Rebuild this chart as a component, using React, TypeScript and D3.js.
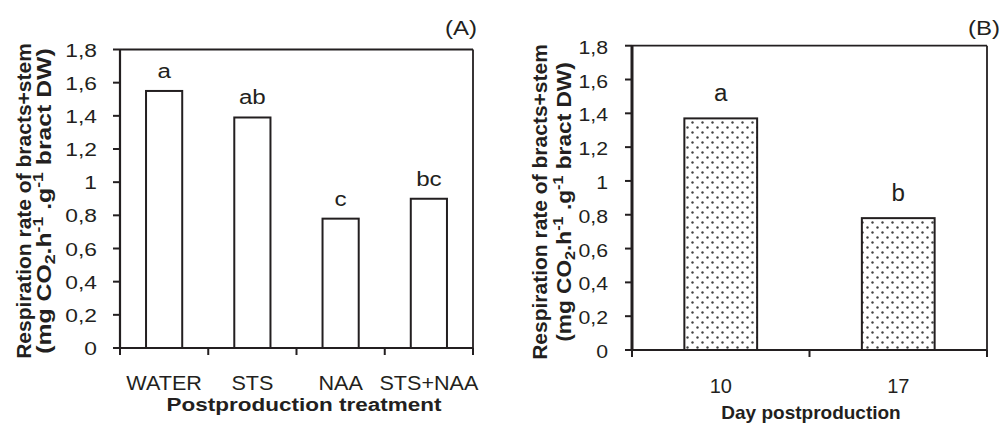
import React from "react";
import * as d3 from "d3";

const categoriesA = ["WATER", "STS", "NAA", "STS+NAA"];
const valuesA = [1.55, 1.39, 0.78, 0.9];
const lettersA = ["a", "ab", "c", "bc"];

const categoriesB = ["10", "17"];
const valuesB = [1.37, 0.78];
const lettersB = ["a", "b"];

const yTickValues = [0, 0.2, 0.4, 0.6, 0.8, 1, 1.2, 1.4, 1.6, 1.8];
const yTickLabels = ["0", "0,2", "0,4", "0,6", "0,8", "1", "1,2", "1,4", "1,6", "1,8"];

const INK = "#231f20";
const FONT = "'Liberation Sans', Arial, Helvetica, sans-serif";

type PanelProps = {
  cats: string[];
  vals: number[];
  letters: string[];
  left: number;
  right: number;
  top: number;
  bottom: number;
  fill: string;
  tickLabelEnd: number;
  tickLabelDy: number;
  tickSize: number;
  tickSx: number;
  catSize: number;
  catSx: number;
  catY: number;
  letterSize: number;
  letterSx: number;
  letterOffset: number;
  xTitle: string;
  xTitleX: number;
  xTitleY: number;
  xTitleSize: number;
  xTitleSx: number;
  panelLabel: string;
  panelLabelX: number;
  panelLabelY: number;
  yTitleX1: number;
  yTitleX2: number;
  yTitleCy: number;
  yTitle2Stretch: number;
  axisWidth: number;
};

function SText(props: {
  x: number;
  y: number;
  sx: number;
  size: number;
  anchor?: string;
  weight?: string;
  children: React.ReactNode;
}) {
  const { x, y, sx, size, anchor = "middle", weight = "normal", children } = props;
  return (
    <text
      transform={`translate(${x},${y}) scale(${sx},1)`}
      textAnchor={anchor}
      fontSize={size}
      fontWeight={weight}
      fontFamily={FONT}
      fill={INK}
    >
      {children}
    </text>
  );
}

function YTitle({ x1, x2, cy, stretch }: { x1: number; x2: number; cy: number; stretch: number }) {
  const fs = 21;
  const small = 15;
  return (
    <g fontFamily={FONT} fontWeight="bold" fill={INK}>
      <text transform={`translate(${x1},${cy}) rotate(-90)`} textAnchor="middle" fontSize={fs}>
        Respiration rate of bracts+stem
      </text>
      <text
        transform={`translate(${x2},${cy}) rotate(-90) scale(${stretch},1)`}
        textAnchor="middle"
        fontSize={fs}
      >
        (mg CO
        <tspan fontSize={small} dy={4}>2</tspan>
        <tspan dy={-4}>.h</tspan>
        <tspan fontSize={small} dy={-8}>-1</tspan>
        <tspan dy={8}> .g</tspan>
        <tspan fontSize={small} dy={-8}>-1</tspan>
        <tspan dy={8}> bract DW)</tspan>
      </text>
    </g>
  );
}

function Panel(p: PanelProps) {
  const y = d3.scaleLinear().domain([0, 1.8]).range([p.bottom, p.top]);
  const x = d3
    .scaleBand<string>()
    .domain(p.cats)
    .range([p.left, p.right])
    .paddingInner(0.59)
    .paddingOuter(0.295);
  const step = x.step();
  const bounds = d3.range(p.cats.length + 1).map((i) => p.left + i * step);

  return (
    <g>
      {p.cats.map((c, i) => (
        <rect
          key={c}
          x={x(c)}
          y={y(p.vals[i])}
          width={x.bandwidth()}
          height={y(0) - y(p.vals[i])}
          fill={p.fill}
          stroke={INK}
          strokeWidth={2}
        />
      ))}
      <line x1={p.left} x2={p.right} y1={p.top} y2={p.top} stroke={INK} strokeWidth={1.8} />
      <line x1={p.right} x2={p.right} y1={p.top} y2={p.bottom} stroke={INK} strokeWidth={1.8} />
      <line x1={p.left} x2={p.right} y1={p.bottom} y2={p.bottom} stroke={INK} strokeWidth={2.2} />
      <line x1={p.left} x2={p.left} y1={p.top} y2={p.bottom} stroke={INK} strokeWidth={p.axisWidth} />
      {yTickValues.map((v, i) => (
        <g key={v}>
          <line x1={p.left - 7} x2={p.left} y1={y(v)} y2={y(v)} stroke={INK} strokeWidth={2} />
          <SText x={p.tickLabelEnd} y={y(v) + p.tickLabelDy} sx={p.tickSx} size={p.tickSize} anchor="end">
            {yTickLabels[i]}
          </SText>
        </g>
      ))}
      {bounds.map((b, i) => (
        <line key={i} x1={b} x2={b} y1={p.bottom} y2={p.bottom + 7} stroke={INK} strokeWidth={2} />
      ))}
      {p.cats.map((c) => (
        <SText key={c} x={(x(c) as number) + x.bandwidth() / 2} y={p.catY} sx={p.catSx} size={p.catSize}>
          {c}
        </SText>
      ))}
      {p.cats.map((c, i) => (
        <SText
          key={c}
          x={(x(c) as number) + x.bandwidth() / 2}
          y={y(p.vals[i]) - p.letterOffset}
          sx={p.letterSx}
          size={p.letterSize}
        >
          {p.letters[i]}
        </SText>
      ))}
      <SText x={p.xTitleX} y={p.xTitleY} sx={p.xTitleSx} size={p.xTitleSize} weight="bold">
        {p.xTitle}
      </SText>
      <SText x={p.panelLabelX} y={p.panelLabelY} sx={1.2} size={20} anchor="end">
        {p.panelLabel}
      </SText>
      <YTitle x1={p.yTitleX1} x2={p.yTitleX2} cy={p.yTitleCy} stretch={p.yTitle2Stretch} />
    </g>
  );
}

export default function App() {
  return (
    <svg
      width={1001}
      height={423}
      style={{ position: "absolute", left: 0, top: 0, background: "#fff" }}
    >
      <defs>
        <pattern id="dots" width={10} height={10} patternUnits="userSpaceOnUse">
          <rect width={10} height={10} fill="#fff" />
          <circle cx={2.5} cy={2.5} r={1.2} fill="#444" />
          <circle cx={7.5} cy={7.5} r={1.2} fill="#444" />
        </pattern>
      </defs>
      <rect width={1001} height={423} fill="#fff" />
      <Panel
        cats={categoriesA}
        vals={valuesA}
        letters={lettersA}
        left={120}
        right={473}
        top={49.5}
        bottom={348}
        fill="#fff"
        tickLabelEnd={97}
        tickLabelDy={7}
        tickSize={19}
        tickSx={1.2}
        catSize={20}
        catSx={1.08}
        catY={390}
        letterSize={21}
        letterSx={1.15}
        letterOffset={13}
        xTitle="Postproduction treatment"
        xTitleX={304}
        xTitleY={411}
        xTitleSize={18}
        xTitleSx={1.25}
        panelLabel="(A)"
        panelLabelX={477}
        panelLabelY={35}
        yTitleX1={31}
        yTitleX2={51}
        yTitleCy={201}
        yTitle2Stretch={1.18}
        axisWidth={2.2}
      />
      <Panel
        cats={categoriesB}
        vals={valuesB}
        letters={lettersB}
        left={632}
        right={987}
        top={45.7}
        bottom={350}
        fill="url(#dots)"
        tickLabelEnd={608}
        tickLabelDy={8}
        tickSize={19}
        tickSx={1.12}
        catSize={20}
        catSx={1.0}
        catY={393}
        letterSize={23}
        letterSx={1.05}
        letterOffset={17}
        xTitle="Day postproduction"
        xTitleX={811}
        xTitleY={419}
        xTitleSize={19}
        xTitleSx={1.0}
        panelLabel="(B)"
        panelLabelX={1000}
        panelLabelY={35}
        yTitleX1={547}
        yTitleX2={571}
        yTitleCy={202}
        yTitle2Stretch={1.08}
        axisWidth={3}
      />
    </svg>
  );
}
